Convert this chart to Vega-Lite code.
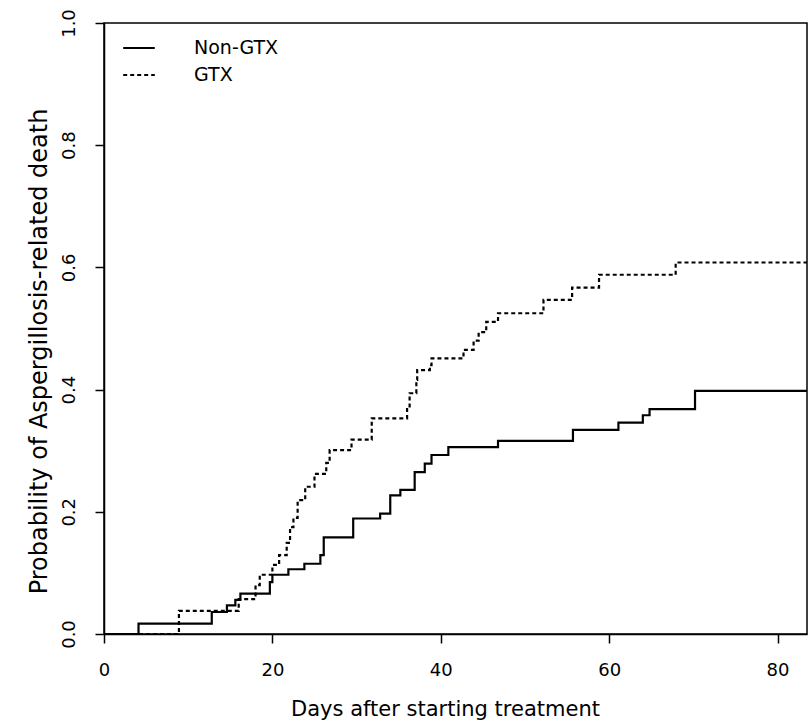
{
  "$schema": "https://vega.github.io/schema/vega-lite/v6.json",
  "width": 703,
  "height": 611,
  "autosize": {"type": "none"},
  "padding": {"left": 104, "top": 23, "right": 2, "bottom": 87},
  "background": "white",
  "config": {
    "view": {"stroke": "black", "strokeWidth": 1.5},
    "font": "DejaVu Sans"
  },
  "data": {
    "values": [
      {"group": "Non-GTX", "day": 0, "p": 0},
      {"group": "Non-GTX", "day": 4.1, "p": 0.017},
      {"group": "Non-GTX", "day": 12.8, "p": 0.036},
      {"group": "Non-GTX", "day": 14.6, "p": 0.047},
      {"group": "Non-GTX", "day": 15.6, "p": 0.056},
      {"group": "Non-GTX", "day": 16.2, "p": 0.066},
      {"group": "Non-GTX", "day": 19.7, "p": 0.085},
      {"group": "Non-GTX", "day": 20.0, "p": 0.097},
      {"group": "Non-GTX", "day": 21.9, "p": 0.106},
      {"group": "Non-GTX", "day": 23.8, "p": 0.115},
      {"group": "Non-GTX", "day": 25.7, "p": 0.129},
      {"group": "Non-GTX", "day": 26.1, "p": 0.158},
      {"group": "Non-GTX", "day": 29.6, "p": 0.189},
      {"group": "Non-GTX", "day": 32.8, "p": 0.197},
      {"group": "Non-GTX", "day": 34.0, "p": 0.227},
      {"group": "Non-GTX", "day": 35.2, "p": 0.236},
      {"group": "Non-GTX", "day": 36.9, "p": 0.265},
      {"group": "Non-GTX", "day": 38.1, "p": 0.279},
      {"group": "Non-GTX", "day": 38.9, "p": 0.293},
      {"group": "Non-GTX", "day": 40.9, "p": 0.306},
      {"group": "Non-GTX", "day": 46.8, "p": 0.316},
      {"group": "Non-GTX", "day": 55.7, "p": 0.334},
      {"group": "Non-GTX", "day": 61.1, "p": 0.346},
      {"group": "Non-GTX", "day": 64.0, "p": 0.358},
      {"group": "Non-GTX", "day": 64.8, "p": 0.368},
      {"group": "Non-GTX", "day": 70.2, "p": 0.398},
      {"group": "Non-GTX", "day": 83.5, "p": 0.398},
      {"group": "GTX", "day": 0, "p": 0},
      {"group": "GTX", "day": 8.9, "p": 0.038},
      {"group": "GTX", "day": 16.0, "p": 0.057},
      {"group": "GTX", "day": 18.0, "p": 0.08},
      {"group": "GTX", "day": 18.5, "p": 0.097},
      {"group": "GTX", "day": 20.0, "p": 0.113},
      {"group": "GTX", "day": 20.8, "p": 0.129},
      {"group": "GTX", "day": 21.7, "p": 0.149},
      {"group": "GTX", "day": 22.1, "p": 0.175},
      {"group": "GTX", "day": 22.5, "p": 0.19},
      {"group": "GTX", "day": 23.0, "p": 0.219},
      {"group": "GTX", "day": 23.9, "p": 0.241},
      {"group": "GTX", "day": 25.0, "p": 0.262},
      {"group": "GTX", "day": 26.4, "p": 0.28},
      {"group": "GTX", "day": 26.8, "p": 0.301},
      {"group": "GTX", "day": 29.4, "p": 0.318},
      {"group": "GTX", "day": 31.8, "p": 0.353},
      {"group": "GTX", "day": 36.0, "p": 0.37},
      {"group": "GTX", "day": 36.3, "p": 0.394},
      {"group": "GTX", "day": 37.1, "p": 0.416},
      {"group": "GTX", "day": 37.2, "p": 0.432},
      {"group": "GTX", "day": 38.7, "p": 0.44},
      {"group": "GTX", "day": 38.9, "p": 0.451},
      {"group": "GTX", "day": 42.7, "p": 0.465},
      {"group": "GTX", "day": 43.9, "p": 0.48},
      {"group": "GTX", "day": 44.5, "p": 0.494},
      {"group": "GTX", "day": 45.4, "p": 0.511},
      {"group": "GTX", "day": 46.8, "p": 0.525},
      {"group": "GTX", "day": 52.2, "p": 0.547},
      {"group": "GTX", "day": 55.6, "p": 0.567},
      {"group": "GTX", "day": 58.8, "p": 0.588},
      {"group": "GTX", "day": 67.9, "p": 0.608},
      {"group": "GTX", "day": 83.5, "p": 0.608}
    ]
  },
  "mark": {"type": "line", "interpolate": "step-after", "color": "black", "strokeWidth": 2.2, "clip": true},
  "encoding": {
    "x": {
      "field": "day",
      "type": "quantitative",
      "scale": {"domain": [0, 83.5], "nice": false, "zero": false},
      "axis": {
        "values": [0, 20, 40, 60, 80],
        "title": "Days after starting treatment",
        "grid": false,
        "domainColor": "black",
        "domainWidth": 1.5,
        "tickColor": "black",
        "tickSize": 9,
        "tickWidth": 1.5,
        "labelFontSize": 18,
        "labelPadding": 18,
        "labelColor": "black",
        "labelFlush": false,
        "titleFontSize": 21,
        "titleFontWeight": "normal",
        "titleColor": "black",
        "titleX": 341,
        "titleY": 81,
        "titleBaseline": "alphabetic"
      }
    },
    "y": {
      "field": "p",
      "type": "quantitative",
      "scale": {"domain": [0, 1], "nice": false},
      "axis": {
        "values": [0, 0.2, 0.4, 0.6, 0.8, 1.0],
        "format": ".1f",
        "title": "Probability of Aspergillosis-related death",
        "grid": false,
        "domainColor": "black",
        "domainWidth": 1.5,
        "tickColor": "black",
        "tickSize": 9,
        "tickWidth": 1.5,
        "labelFontSize": 18,
        "labelAngle": -90,
        "labelAlign": "center",
        "labelBaseline": "bottom",
        "labelPadding": 17,
        "labelColor": "black",
        "labelFlush": false,
        "titleFontSize": 24,
        "titleFontWeight": "normal",
        "titleColor": "black",
        "titleAngle": -90,
        "titleAlign": "center",
        "titleBaseline": "alphabetic",
        "titleX": -58,
        "titleY": 328
      }
    },
    "strokeDash": {
      "field": "group",
      "type": "nominal",
      "scale": {"domain": ["Non-GTX", "GTX"], "range": [[1, 0], [4, 3]]},
      "legend": {
        "title": null,
        "orient": "none",
        "legendX": 18,
        "legendY": 8,
        "symbolType": "stroke",
        "symbolSize": 1000,
        "symbolStrokeColor": "black",
        "symbolStrokeWidth": 1.8,
        "labelFontSize": 19,
        "labelColor": "black",
        "labelOffset": 38,
        "rowPadding": 0
      }
    }
  }
}
